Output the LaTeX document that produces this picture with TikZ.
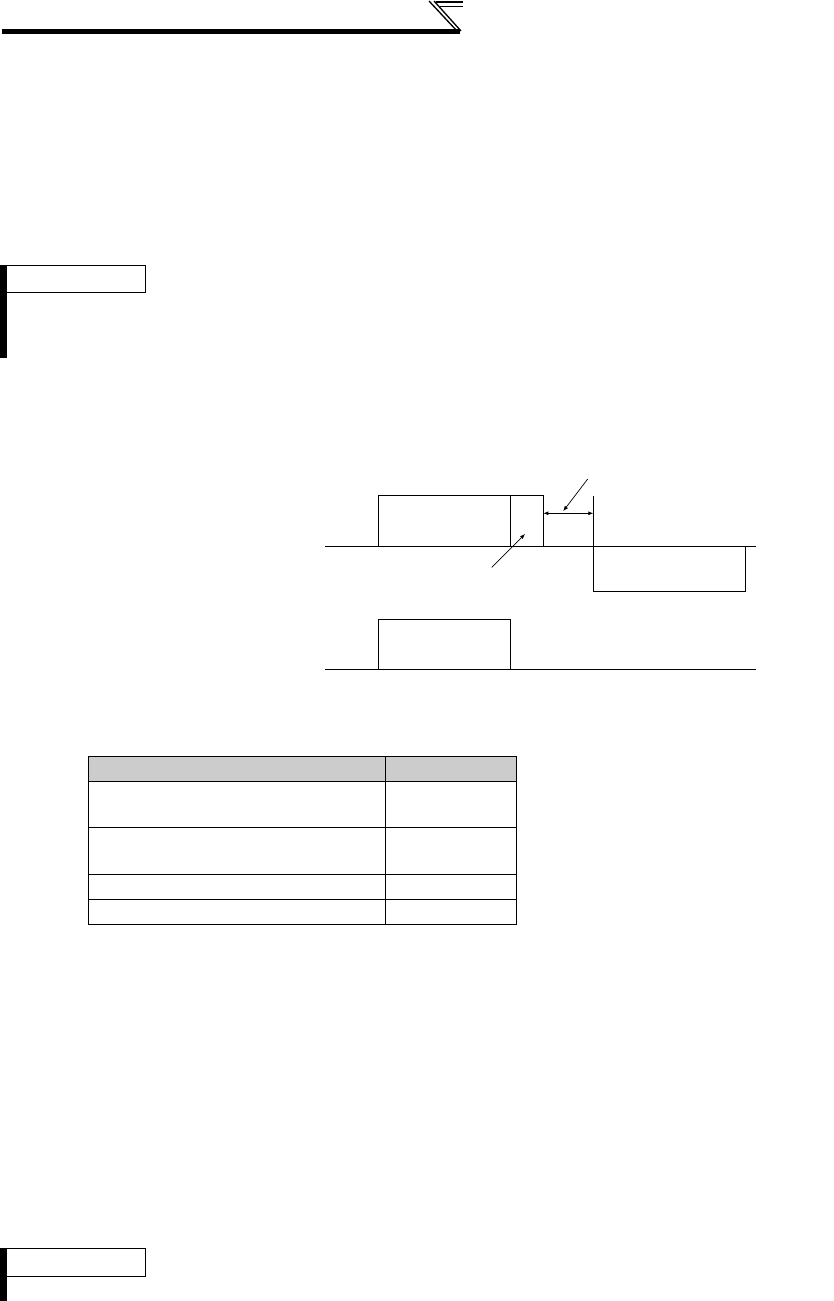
\documentclass[tikz,border=0pt]{standalone}
\usepackage{tikz}
\usetikzlibrary{arrows.meta}

\tikzset{
  thinline/.style={black,line width=0.8pt},
  pointer/.style={black,line width=0.7pt,-{Latex[length=5pt,width=4pt]}},
  headgray/.style={fill=black!20,draw=black,line width=0.9pt}
}

\begin{document}
\begin{tikzpicture}[x=1pt,y=-1pt]

% Page size
\useasboundingbox (0,0) rectangle (833,1301);

% Draw the header rule
\draw[line width=5pt] (2,31.5) -- (460,31.5);
\draw[line width=1.3pt] (429,1) -- (457,31);
\draw[line width=1.3pt] (434,1) -- (461,31);
\draw[line width=1.3pt] (436,2) -- (463,2);
\draw[line width=1.3pt] (440,6.5) -- (463,6.5);

% Side marks with boxes
\fill (0,265) rectangle (7,358);
\draw[line width=0.9pt] (5,265) rectangle (145,292);
\fill (0,1248) rectangle (7,1301);
\draw[line width=0.9pt] (5,1248) rectangle (145,1276);

% Upper time chart
\draw[thinline] (325,546.7) -- (756,546.7);
\draw[thinline] (378.3,546.7) -- (378.3,495) -- (543.3,495) -- (543.3,546.7);
\draw[thinline] (510.3,495) -- (510.3,546.7);
\draw[thinline] (593.3,496) -- (593.3,591) -- (745.7,591) -- (745.7,546.7);

% Gap arrow
\coordinate (gapL) at (543.3,513.3);
\coordinate (gapR) at (593.3,513.3);
\draw[thinline,{Latex[length=5pt,width=4pt]}-{Latex[length=5pt,width=4pt]}] (gapL) -- (gapR);

% Pointers
\coordinate (p1) at (587.7,479);
\coordinate (p1e) at (563.3,511);
\draw[pointer] (p1) -- (p1e);
\coordinate (p2) at (491.7,567.3);
\coordinate (p2e) at (525,534);
\draw[pointer] (p2) -- (p2e);

% Lower time chart
\draw[thinline] (325,669.3) -- (756,669.3);
\draw[thinline] (378.3,669.3) -- (378.3,619.3) -- (510.3,619.3) -- (510.3,669.3);

% Table
\draw[headgray] (88.3,756.7) rectangle (516.7,781.7);
\draw[line width=0.9pt] (88.3,756.7) rectangle (516.7,924.3);
\foreach \y in {827.7,874,899.3}
  \draw[line width=0.9pt] (88.3,\y) -- (516.7,\y);
\draw[line width=0.9pt] (385.7,756.7) -- (385.7,924.3);

\end{tikzpicture}
\end{document}
